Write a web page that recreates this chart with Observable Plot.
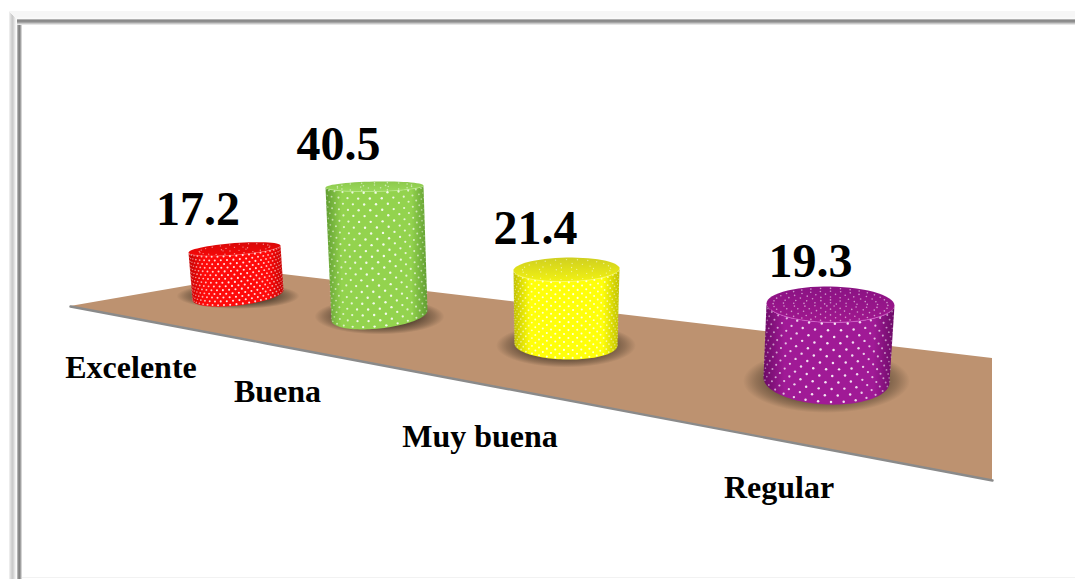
<!DOCTYPE html>
<html lang="es">
<head>
<meta charset="utf-8">
<title>Excelente, Buena, Muy buena, Regular</title>
<style>
  html, body { margin: 0; padding: 0; background: #fff; }
  svg { display: block; }
</style>
<script src="https://cdn.jsdelivr.net/npm/d3@7"></script>
<script src="https://cdn.jsdelivr.net/npm/@observablehq/plot@0.6"></script>
</head>
<body>
<div id="chart"></div>
<script>
// Chart data
const categories = ["Excelente", "Buena", "Muy buena", "Regular"];
const values = [17.2, 40.5, 21.4, 19.3];

// Slot layout on the receding floor, nearest last
const baseX = [237.5, 379, 565.5, 826];
const baseY = [294.5, 315, 344, 379.5];
const baseRx = [45.5, 48, 51.5, 63];
const baseRy = [10.5, 13, 15, 24.5];
const topRx = [46, 49, 53, 64];
const topRy = [6, 5, 12, 18];
const leanX = [-3.5, -5, 0.5, 4];     // horizontal drift of the cap relative to the base
const baseTilt = [-5, -5, 1, 2.5];    // roll of the base ellipse
const topTilt = [-3.5, -1, -1, 1];    // roll of the cap ellipse
const risePerUnit = [2.67, 3.185, 3.5, 3.91];  // foreshortened pixels per percentage point
const shadowRx = [61.5, 65, 70, 83.5];
const shadowRy = [13, 18, 22, 32];
const valueDx = [-36.5, -36, -31, -20];
const valueDy = [-24, -27, -26, -28];
const nameX = [130.5, 277, 479.5, 778.5];
const nameY = [377, 401, 446, 497];

// Surface colours: edge, body, cap back, cap front, cap rim
const edgeColors = ["#c40000", "#5f9c30", "#c0c000", "#6b0a66"];
const bodyColors = ["#ff0a0a", "#93d34e", "#ffff0a", "#a01a96"];
const capBack = ["#d80808", "#8cc94c", "#cfcf20", "#8a1283"];
const capFront = ["#f50808", "#9ad85a", "#f2f212", "#a0188f"];
const rimColors = ["#ff5050", "#c0ec90", "#ffff70", "#e070d8"];

// Polka dot texture per cylinder
const dotStep = [0.14, 0.245, 0.17, 0.205];
const dotRows = [13, 23, 19, 12];
const dotR = [1.05, 1.2, 1.05, 1.25];
const capRings = [2, 2, 3, 6];
const capSpokes = [30, 24, 30, 40];

// Floor outline
const floorX = [70, 266, 992];
const floorBack = [306, 272, 358];
const floorFront = [306, 343, 480];

// Bevelled frame, one pixel per entry
const frameColumns = ["#ececec", "#dedede", "#d2d2d2", "#cbcbcb", "#d5d5d5", "#e4e4e4", "#f2f2f2", "#fbfbfb", "#b4b4b4", "#8e8e8e", "#828282", "#a2a2a2", "#d4d4d4"];
const frameRows = ["#f6f6f6", "#f6f6f6", "#f6f6f6", "#f6f6f6", "#f6f6f6", "#f6f6f6", "#f8f8f8", "#fafafa", "#b2b2b2", "#8a8a8a", "#8e8e8e", "#a6a6a6", "#c8c8c8", "#e6e6e6"];

const rows = categories.map((category, i) => {
  const rise = values[i] * risePerUnit[i];
  return {
    i, category, value: values[i],
    x0: baseX[i], y0: baseY[i], rx0: baseRx[i], ry0: baseRy[i], tilt0: baseTilt[i],
    x1: baseX[i] + leanX[i], y1: baseY[i] - rise, rx1: topRx[i], ry1: topRy[i], tilt1: topTilt[i]
  };
});

// A point on a cylinder: t runs from base (0) to cap (1), angle from the front
const at = (c, t, a, radial = 1) => {
  const rx = c.rx0 + (c.rx1 - c.rx0) * t;
  const ry = c.ry0 + (c.ry1 - c.ry0) * t;
  const roll = c.tilt0 + (c.tilt1 - c.tilt0) * t;
  return {
    x: c.x0 + (c.x1 - c.x0) * t + rx * radial * Math.sin(a),
    y: c.y0 + (c.y1 - c.y0) * t + ry * radial * Math.cos(a) + roll * radial * Math.sin(a)
  };
};

const steps = d3.range(0, 61).map((k) => k / 60);
const sideOutline = (c) => [
  ...steps.map((s) => at(c, 0, Math.PI / 2 - s * Math.PI)),
  ...steps.map((s) => at(c, 1, -Math.PI / 2 + s * Math.PI))
];
const capOutline = (c) => steps.map((s) => at(c, 1, s * 2 * Math.PI));
const rimOutline = (c) => steps.map((s) => at(c, 1, -1.2 + s * 2.4, 0.99));
const shadowOutline = (c) => steps.map((s) => ({
  x: c.x0 + shadowRx[c.i] * Math.sin(s * 2 * Math.PI),
  y: c.y0 + 1 + shadowRy[c.i] * Math.cos(s * 2 * Math.PI)
}));

const sideDots = rows.flatMap((c) => {
  const step = dotStep[c.i], n = dotRows[c.i], out = [];
  for (let j = 0; j <= n; ++j) {
    const offset = j % 2 ? step / 2 : 0;
    for (let a = -Math.PI / 2 + offset; a < Math.PI / 2; a += step) {
      const t = (j + 0.4) / (n + 0.6);
      out.push({...at(c, t, a), r: dotR[c.i] * (0.6 + 0.4 * Math.cos(a)), o: 0.25 + 0.65 * Math.cos(a)});
    }
  }
  return out;
});
const capDots = rows.flatMap((c) => {
  const out = [];
  for (let k = 1; k <= capRings[c.i]; ++k) {
    const radial = (k - 0.4) / capRings[c.i] * 0.96;
    const count = Math.max(5, Math.round(capSpokes[c.i] * radial));
    for (let m = 0; m < count; ++m) {
      out.push({...at(c, 1, (m + (k % 2) / 2) * 2 * Math.PI / count, radial), r: dotR[c.i] * 0.65, o: 0.55});
    }
  }
  return out;
});

// Gradients the cylinders and their contact shadows are filled with
const gradients = () => {
  const defs = d3.create("svg:defs");
  rows.forEach((c) => {
    const side = defs.append("linearGradient").attr("id", `side${c.i}`);
    [[0, edgeColors], [0.16, bodyColors], [0.55, bodyColors], [0.84, bodyColors], [1, edgeColors]]
      .forEach(([offset, colors]) => side.append("stop").attr("offset", offset).attr("stop-color", colors[c.i]));
    const cap = defs.append("linearGradient").attr("id", `cap${c.i}`).attr("x2", 0).attr("y2", 1);
    cap.append("stop").attr("offset", 0).attr("stop-color", capBack[c.i]);
    cap.append("stop").attr("offset", 1).attr("stop-color", capFront[c.i]);
  });
  const shadow = defs.append("radialGradient").attr("id", "contact");
  [[0, 0.85], [0.6, 0.8], [0.85, 0.35], [1, 0]].forEach(([offset, alpha]) =>
    shadow.append("stop").attr("offset", offset).attr("stop-color", "#4a3a2a").attr("stop-opacity", alpha));
  return defs.node();
};

const chart = Plot.plot({
  width: 1075,
  height: 579,
  margin: 0,
  x: {domain: [0, 1075], range: [0, 1075], axis: null},
  y: {domain: [0, 579], range: [0, 579], axis: null},
  r: {type: "identity"},
  opacity: {type: "identity"},
  color: {type: "identity"},
  marks: [
    gradients,
    // Frame
    Plot.ruleX(frameColumns, {x: (d, i) => 9 + i, y1: (d, i) => 11 + Math.min(i, 8), y2: 579, stroke: (d) => d}),
    Plot.ruleY(frameRows, {y: (d, i) => 11 + i, x1: (d, i) => 9 + Math.min(i, 8), x2: 1075, stroke: (d) => d}),
    Plot.ruleY([577], {x1: 22, x2: 1075, stroke: "#f2f2f2"}),
    // Floor
    Plot.areaY(floorX, {x: (d) => d, y1: (d, i) => floorBack[i], y2: (d, i) => floorFront[i], fill: "#bd9270", curve: "linear"}),
    Plot.line(floorX, {x: (d) => d, y: (d, i) => floorFront[i], stroke: "#8a8a8a", strokeWidth: 2.4, curve: "linear"}),
    // Cylinders, back to front
    ...rows.flatMap((c) => [
      Plot.line(shadowOutline(c), {x: "x", y: "y", stroke: "none", fill: "url(#contact)"}),
      Plot.line(sideOutline(c), {x: "x", y: "y", stroke: "none", fill: `url(#side${c.i})`}),
      Plot.line(capOutline(c), {x: "x", y: "y", stroke: "none", fill: `url(#cap${c.i})`}),
      Plot.line(rimOutline(c), {x: "x", y: "y", stroke: rimColors[c.i], strokeWidth: 1, strokeOpacity: 0.6})
    ]),
    Plot.dot(sideDots, {x: "x", y: "y", r: "r", fill: "#fff", stroke: "none", fillOpacity: "o"}),
    Plot.dot(capDots, {x: "x", y: "y", r: "r", fill: "#fff", stroke: "none", fillOpacity: "o"}),
    // Value labels
    Plot.text(rows, {
      x: (d) => d.x1 + valueDx[d.i],
      y: (d) => d.y1 + valueDy[d.i],
      text: (d) => d.value.toFixed(1),
      fontFamily: "Liberation Serif",
      fontWeight: "bold",
      fontSize: 48,
      fill: "#000",
      textAnchor: "middle",
      lineAnchor: "bottom"
    }),
    // Category labels
    Plot.text(rows, {
      x: (d) => nameX[d.i],
      y: (d) => nameY[d.i],
      text: "category",
      fontFamily: "Liberation Serif",
      fontWeight: "bold",
      fontSize: 32,
      fill: "#000",
      textAnchor: "middle",
      lineAnchor: "bottom"
    })
  ]
});
document.getElementById("chart").append(chart);
</script>
</body>
</html>
